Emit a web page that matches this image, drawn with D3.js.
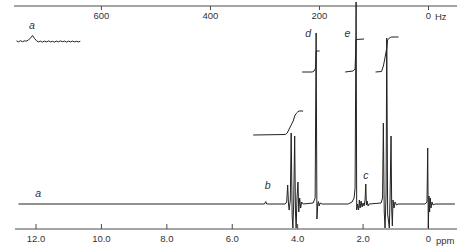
<!DOCTYPE html>
<html>
<head>
<meta charset="utf-8">
<script src="https://cdn.jsdelivr.net/npm/d3@7"></script>
<style>
  body { margin: 0; background: #fff; }
  text { font-family: "Liberation Sans", Arial, sans-serif; fill: #333; }
  .peak-label { font-style: italic; font-size: 10.5px; }
  .axis text { font-size: 9.5px; }
</style>
</head>
<body>
<div id="chart-area"></div>
<script>
// 60 MHz 1H spectrum, chemical shift in ppm, intensity in arbitrary units (0 = baseline)

var ppmTicks = [12, 10, 8, 6, 4, 2, 0];
var ppmTickLabels = ["12.0", "10.0", "8.0", "6.0", "4.0", "2.0", "0"];
var hzTicks = [600, 400, 200, 0];
var hzPerPpm = 60;

// main trace [ppm, intensity]
var spectrum = [
    [12.52, 0], [5.0, 0], [4.96, 1.2], [4.93, 0],
    [4.366, 0], [4.32, 1], [4.29, 9.5], [4.265, 0], [4.245, -3], [4.21, 2],
    [4.183, 35.5], [4.153, -6], [4.131, -12], [4.107, 0], [4.076, 34],
    [4.052, -4], [4.031, -12], [4.006, 3], [3.975, 11], [3.951, -4],
    [3.924, 3], [3.893, -2], [3.863, 1], [3.817, 0],
    [3.511, 0.5], [3.45, 3], [3.42, 85.5], [3.396, -7.5], [3.371, 0],
    [3.35, 1.2], [3.328, -1], [3.298, 0.5], [3.237, 0],
    [2.443, 0], [2.321, 1], [2.26, 3], [2.229, 8], [2.198, 101], [2.18, -3],
    [2.153, 0], [2.122, -3], [2.098, 2], [2.076, -2], [2.046, 1.5],
    [2.015, -1.5], [1.985, 0.5], [1.954, -1], [1.924, 2], [1.902, 10],
    [1.884, -0.5], [1.863, 1.5], [1.832, -1], [1.80, 0],
    [1.435, 0.5], [1.389, 3], [1.365, 40.5], [1.338, -4], [1.313, -12],
    [1.282, 5], [1.261, 83], [1.234, -5], [1.182, -12], [1.16, 3],
    [1.13, 34], [1.109, -3], [1.09, -11], [1.07, 2], [1.038, -2],
    [1.008, 1], [0.962, -0.5], [0.916, 0],
    [0.092, 0], [0.031, 1], [0.009, 28], [-0.009, -12], [-0.031, 4],
    [-0.049, -4], [-0.07, 3], [-0.092, -2], [-0.122, 1], [-0.153, -0.5],
    [-0.214, 0], [-0.824, 0]
];

// expanded sweep of the enol OH (signal a), own baseline
var insetTrace = [
    [12.58, 0.3], [12.52, -0.2], [12.46, 0.4], [12.40, -0.1], [12.34, 0.3],
    [12.28, 0.2], [12.21, 0.8], [12.15, 1.8], [12.09, 3], [12.03, 1.5],
    [11.97, 0.4], [11.91, -0.2], [11.85, 0.2], [11.79, -0.3], [11.73, 0.2],
    [11.66, -0.2], [11.60, 0.3], [11.54, -0.2], [11.48, 0.1], [11.42, -0.3],
    [11.36, 0.2], [11.30, -0.2], [11.24, 0.3], [11.17, -0.1], [11.11, 0.2],
    [11.05, -0.3], [10.99, 0.2], [10.93, -0.2], [10.87, 0.2], [10.81, -0.2],
    [10.75, 0.1], [10.69, -0.2], [10.63, 0.1]
];

// integral traces [ppm, level]
var integralQuartet = [
    [5.344, 34.5], [4.366, 34.75], [4.305, 35.5], [4.26, 37], [4.214, 38.5],
    [4.168, 40], [4.122, 41.5], [4.076, 44], [4.031, 45.25], [3.985, 46],
    [3.939, 46.5], [3.817, 46.5]
];
var integralD = [
    [3.847, 66], [3.542, 66], [3.481, 66.5], [3.435, 68], [3.42, 76.5], [3.313, 76.5]
];
var integralE = [
    [2.534, 66], [2.29, 66.5], [2.229, 67.5], [2.198, 82.25], [1.954, 82.5]
];
var integralTriplet = [
    [1.603, 66], [1.42, 66.25], [1.365, 69], [1.328, 72], [1.261, 78],
    [1.237, 82], [1.16, 83.25], [1.115, 83.5], [0.901, 83.5]
];

var peakLabels = ["a", "b", "c", "d", "e"];
var peakLabelPos = [[11.92, 3.5], [4.9, 7.5], [1.9, 12.5], [3.66, 83.5], [2.46, 83.5]];
var insetLabelPos = [12.11, 6.5];

var width = 457, height = 251;

var svg = d3.select("#chart-area")
    .append("svg")
    .attr("width", width)
    .attr("height", height);

// Scales
var x = d3.scaleLinear().domain([12, 0]).range([35.5, 428]);
var xHz = d3.scaleLinear().domain([12 * hzPerPpm, 0]).range(x.range());
var y = d3.scaleLinear().domain([0, 100]).range([204, 4]);
var yInset = d3.scaleLinear().domain([0, 100]).range([41.5, -158.5]);

// Axes
var bottomAxis = svg.append("g")
    .attr("class", "axis")
    .attr("transform", "translate(0,229)")
    .call(d3.axisBottom(x)
        .tickValues(ppmTicks)
        .tickFormat(function(d, i) { return ppmTickLabels[i]; })
        .tickSizeInner(-5)
        .tickSizeOuter(0)
        .tickPadding(6));
bottomAxis.select(".domain").attr("d", "M15,0H457");

var topAxis = svg.append("g")
    .attr("class", "axis")
    .attr("transform", "translate(0,6)")
    .call(d3.axisBottom(xHz)
        .tickValues(hzTicks)
        .tickSizeInner(4)
        .tickSizeOuter(0)
        .tickPadding(2));
topAxis.select(".domain").attr("d", "M14,0H457");

svg.selectAll(".axis path, .axis line")
    .attr("stroke", "#4a4a4a")
    .attr("stroke-width", 1);

svg.append("text")
    .attr("x", x(0) + 8)
    .attr("y", 244)
    .attr("font-size", "9.5px")
    .text("ppm");
svg.append("text")
    .attr("x", xHz(0) + 7)
    .attr("y", 20)
    .attr("font-size", "9.5px")
    .text("Hz");

// Line generators
var line = d3.line()
    .x(function(d) { return x(d[0]); })
    .y(function(d) { return y(d[1]); });
var insetLine = d3.line()
    .x(function(d) { return x(d[0]); })
    .y(function(d) { return yInset(d[1]); });

svg.append("path")
    .attr("d", line(spectrum))
    .attr("fill", "none")
    .attr("stroke", "#222")
    .attr("stroke-width", 1);

svg.append("path")
    .attr("d", insetLine(insetTrace))
    .attr("fill", "none")
    .attr("stroke", "#222")
    .attr("stroke-width", 1);

[integralQuartet, integralD, integralE, integralTriplet].forEach(function(trace) {
    svg.append("path")
        .attr("d", line(trace))
        .attr("fill", "none")
        .attr("stroke", "#222")
        .attr("stroke-width", 1);
});

// Peak labels
svg.selectAll(".peak-label")
    .data(peakLabels)
    .enter().append("text")
    .attr("class", "peak-label")
    .attr("text-anchor", "middle")
    .attr("x", function(d, i) { return x(peakLabelPos[i][0]); })
    .attr("y", function(d, i) { return y(peakLabelPos[i][1]); })
    .text(function(d) { return d; });

svg.append("text")
    .attr("class", "peak-label")
    .attr("text-anchor", "middle")
    .attr("x", x(insetLabelPos[0]))
    .attr("y", yInset(insetLabelPos[1]))
    .text("a");
</script>
</body>
</html>
